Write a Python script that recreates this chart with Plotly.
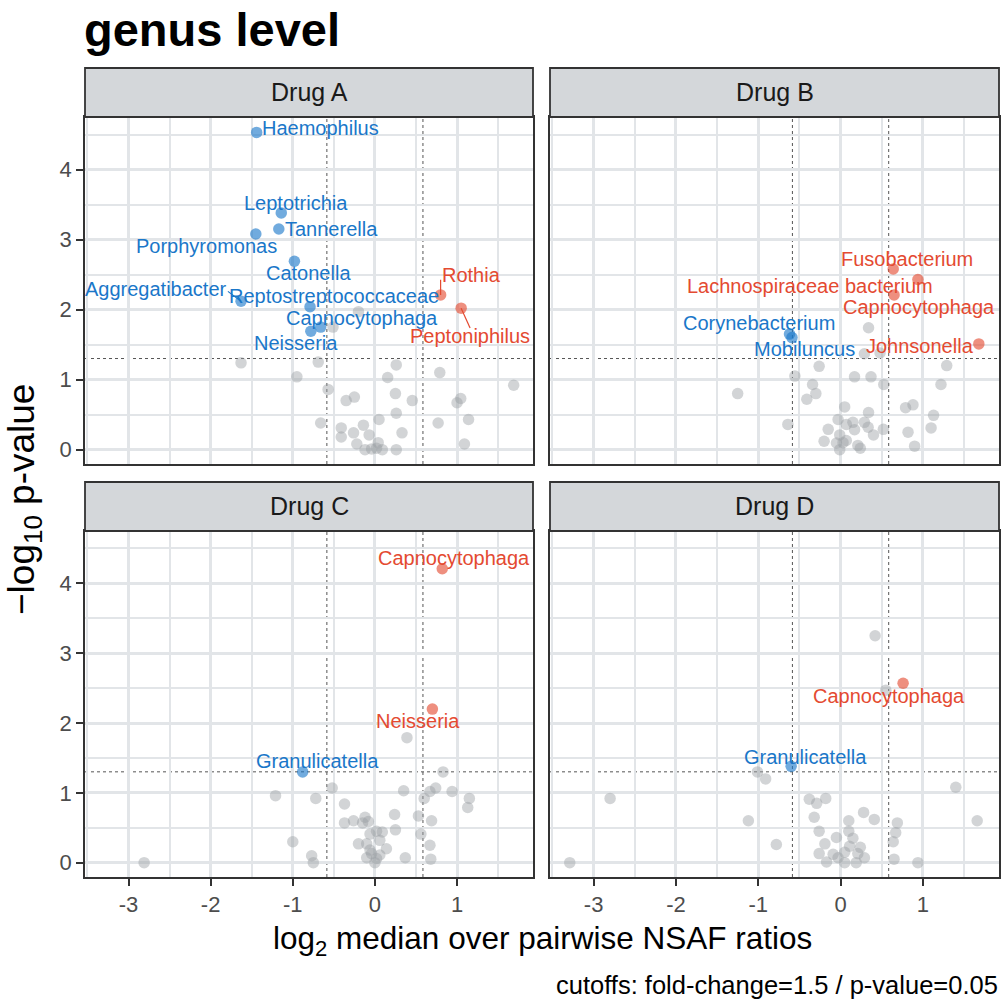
import math
import plotly.graph_objects as go

# ---------------- data ----------------
drugs = ["Drug A", "Drug B", "Drug C", "Drug D"]

# non-significant genera (grey): log2 median ratio, -log10 p
grey_x_A = [-1.63, -0.95, -0.20, -0.51, -0.69, 0.26, 0.155, 0.79, 1.69, -0.57, -0.35, -0.25, 0.25, 0.455,
            1.00, 1.045, 0.26, -0.66, 0.05, 0.77, 1.14, -0.41, -0.14, -0.41, -0.26, -0.07, 0.33, -0.22,
            -0.12, -0.04, 0.04, 0.02, 0.09, 0.26, 1.09]
grey_y_A = [1.24, 1.04, 1.97, 1.75, 1.25, 1.21, 1.03, 1.10, 0.92, 0.86, 0.70, 0.75, 0.80, 0.70,
            0.67, 0.73, 0.52, 0.38, 0.43, 0.38, 0.43, 0.31, 0.35, 0.18, 0.24, 0.21, 0.24, 0.08,
            0.0, 0.01, 0.10, 0.02, 0.0, 0.0, 0.08]

grey_x_B = [0.34, 0.29, 0.48, -0.26, 1.29, -0.555, 0.17, 0.37, -0.34, 0.525, 1.22, -0.30, -0.41, 0.05,
            0.79, 0.88, 0.34, 1.13, -0.64, -0.03, 0.15, 0.07, 0.29, 0.335, -0.15, 0.17, 0.52, 0.40,
            -0.01, 0.82, 1.10, -0.20, -0.05, 0.07, 0.03, -0.01, 0.21, 0.24, 0.90, -1.25]
grey_y_B = [1.74, 1.37, 1.38, 1.19, 1.20, 1.05, 1.04, 1.04, 0.93, 0.93, 0.93, 0.80, 0.72, 0.61,
            0.60, 0.64, 0.53, 0.49, 0.36, 0.43, 0.39, 0.36, 0.39, 0.32, 0.29, 0.285, 0.29, 0.21,
            0.21, 0.25, 0.31, 0.12, 0.095, 0.13, 0.10, 0.0, 0.06, 0.02, 0.05, 0.80]

grey_x_C = [-1.21, -1.00, -2.81, 0.39, 0.83, -0.52, 0.35, 0.74, 0.67, 0.94, -0.72, 0.60, 1.15, 1.13,
            -0.37, -0.12, 0.24, 0.53, -0.37, -0.26, -0.15, -0.08, 0.69, 0.25, 0.02, 0.09, -0.06, 0.56,
            0.06, -0.20, 0.14, 0.67, -0.10, -0.06, -0.04, -0.10, 0.02, 0.0, 0.06, 0.37, 0.68, -0.77, -0.75]
grey_y_C = [0.96, 0.30, 0.0, 1.79, 1.30, 1.07, 1.03, 1.07, 1.02, 1.02, 0.92, 0.92, 0.92, 0.79,
            0.84, 0.65, 0.69, 0.67, 0.57, 0.60, 0.57, 0.59, 0.60, 0.47, 0.45, 0.44, 0.41, 0.41,
            0.32, 0.27, 0.20, 0.25, 0.27, 0.18, 0.13, 0.07, 0.06, 0.0, 0.11, 0.07, 0.05, 0.10, 0.0]

grey_x_D = [0.42, 0.55, 1.40, 1.66, -0.38, -0.29, -0.18, -0.32, 0.28, 0.41, 0.10, 0.69, 0.67, 0.64,
            -0.26, 0.10, 0.15, -0.05, -0.19, 0.11, 0.24, -0.26, -0.09, -0.03, 0.05, 0.21, 0.29, -0.17,
            0.05, 0.19, 0.65, 0.94, -0.78, -1.01, -0.91, -2.80, -1.12, -3.29]
grey_y_D = [3.25, 2.47, 1.08, 0.60, 0.91, 0.85, 0.92, 0.65, 0.72, 0.62, 0.60, 0.57, 0.43, 0.30,
            0.45, 0.45, 0.35, 0.36, 0.27, 0.235, 0.22, 0.13, 0.12, 0.07, 0.15, 0.13, 0.07, 0.01,
            0.0, 0.0, 0.05, 0.0, 0.26, 1.30, 1.20, 0.92, 0.60, 0.0]

# significant genera
sig_genus_A = ["Haemophilus", "Leptotrichia", "Tannerella", "Porphyromonas", "Catonella",
               "Aggregatibacter", "Reptostreptococcaceae", "Capnocytophaga", "Neisseria",
               "Rothia", "Peptoniphilus"]
sig_x_A = [-1.44, -1.14, -1.17, -1.45, -0.98, -1.63, -0.79, -0.66, -0.78, 0.80, 1.05]
sig_y_A = [4.53, 3.38, 3.15, 3.08, 2.69, 2.12, 2.04, 1.75, 1.69, 2.21, 2.02]

sig_genus_B = ["Fusobacterium", "Lachnospiraceae bacterium", "Capnocytophaga", "Johnsonella",
               "Corynebacterium", "Mobiluncus"]
sig_x_B = [0.64, 0.94, 0.65, 1.68, -0.62, -0.59]
sig_y_B = [2.58, 2.43, 2.21, 1.51, 1.65, 1.60]

sig_genus_C = ["Capnocytophaga", "Neisseria", "Granulicatella"]
sig_x_C = [0.82, 0.70, -0.88]
sig_y_C = [4.21, 2.20, 1.30]

sig_genus_D = ["Capnocytophaga", "Granulicatella"]
sig_x_D = [0.76, -0.60]
sig_y_D = [2.57, 1.38]

x_ticks = [-3, -2, -1, 0, 1]
x_tick_labels = ["-3", "-2", "-1", "0", "1"]
y_ticks = [0, 1, 2, 3, 4]
y_tick_labels = ["0", "1", "2", "3", "4"]

fold_change_cutoff = 1.5
p_value_cutoff = 0.05

# ---------------- layout helpers ----------------
W, H = 1002, 999
FONT = "Liberation Sans, Arial, Helvetica, sans-serif"
BLUE_TXT = "#1A77C9"
RED_TXT = "#E44A31"
BLUE_PT = "rgba(26,119,201,0.62)"
RED_PT = "rgba(228,74,49,0.62)"
GREY_PT = "rgba(155,160,165,0.45)"
GRID = "#E2E5E8"
DARK = "#333333"

def fx(p):
    return p / W

def fy(p):
    return 1 - p / H

# panel pixel boxes: left, right, top, bottom
geom = {
    "Drug A": (85, 533, 117, 464),
    "Drug B": (550, 999, 117, 464),
    "Drug C": (85, 533, 531, 877),
    "Drug D": (550, 999, 531, 877),
}
STRIP_H = 49
XR = [-3.53, 1.925]
YR = [-0.205, 4.75]

# label placement (text centre, optional segment start), layout only
label_place = {
    ("Drug A", "Haemophilus"): (-0.66, 4.59, None),
    ("Drug A", "Leptotrichia"): (-0.965, 3.52, None),
    ("Drug A", "Tannerella"): (-0.53, 3.15, None),
    ("Drug A", "Porphyromonas"): (-2.05, 2.91, None),
    ("Drug A", "Catonella"): (-0.81, 2.52, None),
    ("Drug A", "Aggregatibacter"): (-2.66, 2.29, (-1.79, 2.26)),
    ("Drug A", "Reptostreptococcaceae"): (-0.50, 2.19, None),
    ("Drug A", "Capnocytophaga"): (-0.155, 1.88, None),
    ("Drug A", "Neisseria"): (-0.965, 1.52, None),
    ("Drug A", "Rothia"): (1.175, 2.49, (0.80, 2.425)),
    ("Drug A", "Peptoniphilus"): (1.16, 1.62, (1.159, 1.736)),
    ("Drug B", "Fusobacterium"): (0.805, 2.72, None),
    ("Drug B", "Lachnospiraceae bacterium"): (-0.373, 2.34, None),
    ("Drug B", "Capnocytophaga"): (0.959, 2.03, None),
    ("Drug B", "Johnsonella"): (0.966, 1.48, None),
    ("Drug B", "Corynebacterium"): (-0.988, 1.81, None),
    ("Drug B", "Mobiluncus"): (-0.433, 1.44, None),
    ("Drug C", "Capnocytophaga"): (0.966, 4.36, None),
    ("Drug C", "Neisseria"): (0.52, 2.03, None),
    ("Drug C", "Granulicatella"): (-0.70, 1.45, None),
    ("Drug D", "Capnocytophaga"): (0.584, 2.39, None),
    ("Drug D", "Granulicatella"): (-0.425, 1.51, None),
}

grey = {
    "Drug A": (grey_x_A, grey_y_A),
    "Drug B": (grey_x_B, grey_y_B),
    "Drug C": (grey_x_C, grey_y_C),
    "Drug D": (grey_x_D, grey_y_D),
}
sig = {
    "Drug A": (sig_genus_A, sig_x_A, sig_y_A),
    "Drug B": (sig_genus_B, sig_x_B, sig_y_B),
    "Drug C": (sig_genus_C, sig_x_C, sig_y_C),
    "Drug D": (sig_genus_D, sig_x_D, sig_y_D),
}

fig = go.Figure()
shapes = []
annotations = []
layout_axes = {}

x_cut = math.log2(fold_change_cutoff)
y_cut = -math.log10(p_value_cutoff)

for i, drug in enumerate(drugs):
    n = "" if i == 0 else str(i + 1)
    xa, ya = "x" + n, "y" + n
    l, r, t, b = geom[drug]
    is_bottom = drug in ("Drug C", "Drug D")
    is_left = drug in ("Drug A", "Drug C")

    layout_axes["xaxis" + n] = dict(
        domain=[fx(l), fx(r)], anchor=ya, range=XR, zeroline=False,
        tickmode="array", tickvals=x_ticks, ticktext=x_tick_labels,
        showticklabels=is_bottom, ticks="outside" if is_bottom else "",
        ticklen=7, tickwidth=2, tickcolor=DARK,
        tickfont=dict(family=FONT, size=22, color="#4D4D4D"),
        showgrid=True, gridcolor=GRID, gridwidth=2.8,
        minor=dict(dtick=0.5, tick0=0, showgrid=True, gridcolor=GRID, gridwidth=2.0, ticks=""),
        showline=True, mirror=True, linecolor=DARK, linewidth=1.8,
    )
    layout_axes["yaxis" + n] = dict(
        domain=[fy(b), fy(t)], anchor=xa, range=YR, zeroline=False,
        tickmode="array", tickvals=y_ticks, ticktext=y_tick_labels,
        showticklabels=is_left, ticks="outside" if is_left else "",
        ticklen=7, tickwidth=2, tickcolor=DARK,
        tickfont=dict(family=FONT, size=22, color="#4D4D4D"),
        showgrid=True, gridcolor=GRID, gridwidth=2.8,
        minor=dict(dtick=0.5, tick0=0, showgrid=True, gridcolor=GRID, gridwidth=2.0, ticks=""),
        showline=True, mirror=True, linecolor=DARK, linewidth=1.8,
    )

    # cutoff lines
    for xv in (-x_cut, x_cut):
        shapes.append(dict(type="line", xref=xa, yref=ya + " domain", x0=xv, x1=xv, y0=0, y1=1,
                           line=dict(color="#555555", width=1, dash="dot"), layer="below"))
    shapes.append(dict(type="line", xref=xa + " domain", yref=ya, x0=0, x1=1, y0=y_cut, y1=y_cut,
                       line=dict(color="#555555", width=1, dash="dot"), layer="below"))

    # strip
    shapes.append(dict(type="rect", xref="paper", yref="paper",
                       x0=fx(l), x1=fx(r), y0=fy(t), y1=fy(t - STRIP_H),
                       fillcolor="#D4D7DA", line=dict(color=DARK, width=1.8)))
    annotations.append(dict(text=drug, xref="paper", yref="paper", x=fx((l + r) / 2),
                            y=fy(t - STRIP_H / 2), showarrow=False, xanchor="center", yanchor="middle",
                            font=dict(family=FONT, size=25, color="#1A1A1A")))

    gx, gy = grey[drug]
    fig.add_trace(go.Scatter(x=gx, y=gy, mode="markers", xaxis=xa, yaxis=ya,
                             marker=dict(size=11.5, color=GREY_PT, line=dict(width=0)),
                             showlegend=False, hoverinfo="skip"))
    names, sx, sy = sig[drug]
    cols = [BLUE_PT if v < 0 else RED_PT for v in sx]
    fig.add_trace(go.Scatter(x=sx, y=sy, mode="markers", xaxis=xa, yaxis=ya,
                             marker=dict(size=11.5, color=cols, line=dict(width=0)),
                             text=names, showlegend=False))
    for name, px_, py_ in zip(names, sx, sy):
        lx, ly, seg = label_place[(drug, name)]
        tc = BLUE_TXT if px_ < 0 else RED_TXT
        if seg is not None:
            shapes.append(dict(type="line", xref=xa, yref=ya, x0=seg[0], y0=seg[1], x1=px_, y1=py_,
                               line=dict(color=tc, width=1.2)))
        annotations.append(dict(text=name, xref=xa, yref=ya, x=lx, y=ly, showarrow=False,
                                xanchor="center", yanchor="middle",
                                font=dict(family=FONT, size=20, color=tc)))

# titles
annotations.append(dict(text="<b>genus level</b>", xref="paper", yref="paper", x=fx(82), y=fy(30),
                        xanchor="left", yanchor="middle", showarrow=False,
                        font=dict(family=FONT, size=47, color="#000000")))
annotations.append(dict(text="log<sub>2</sub> median over pairwise NSAF ratios", xref="paper",
                        yref="paper", x=fx(542), y=fy(940), xanchor="center", yanchor="middle",
                        showarrow=False, font=dict(family=FONT, size=31.5, color="#000000")))
annotations.append(dict(text="\u2212log<sub>10</sub> p-value", xref="paper", yref="paper",
                        x=fx(24), y=fy(500), xanchor="center", yanchor="middle", textangle=-90,
                        showarrow=False, font=dict(family=FONT, size=37, color="#000000")))
annotations.append(dict(text="cutoffs: fold-change=1.5 / p-value=0.05", xref="paper", yref="paper",
                        x=fx(1000), y=fy(985), xanchor="right", yanchor="middle", showarrow=False,
                        font=dict(family=FONT, size=25.5, color="#000000")))

fig.update_layout(
    width=W, height=H, margin=dict(l=0, r=0, t=0, b=0),
    paper_bgcolor="white", plot_bgcolor="white",
    shapes=shapes, annotations=annotations, showlegend=False,
    **layout_axes,
)

fig.write_html("out.html")
